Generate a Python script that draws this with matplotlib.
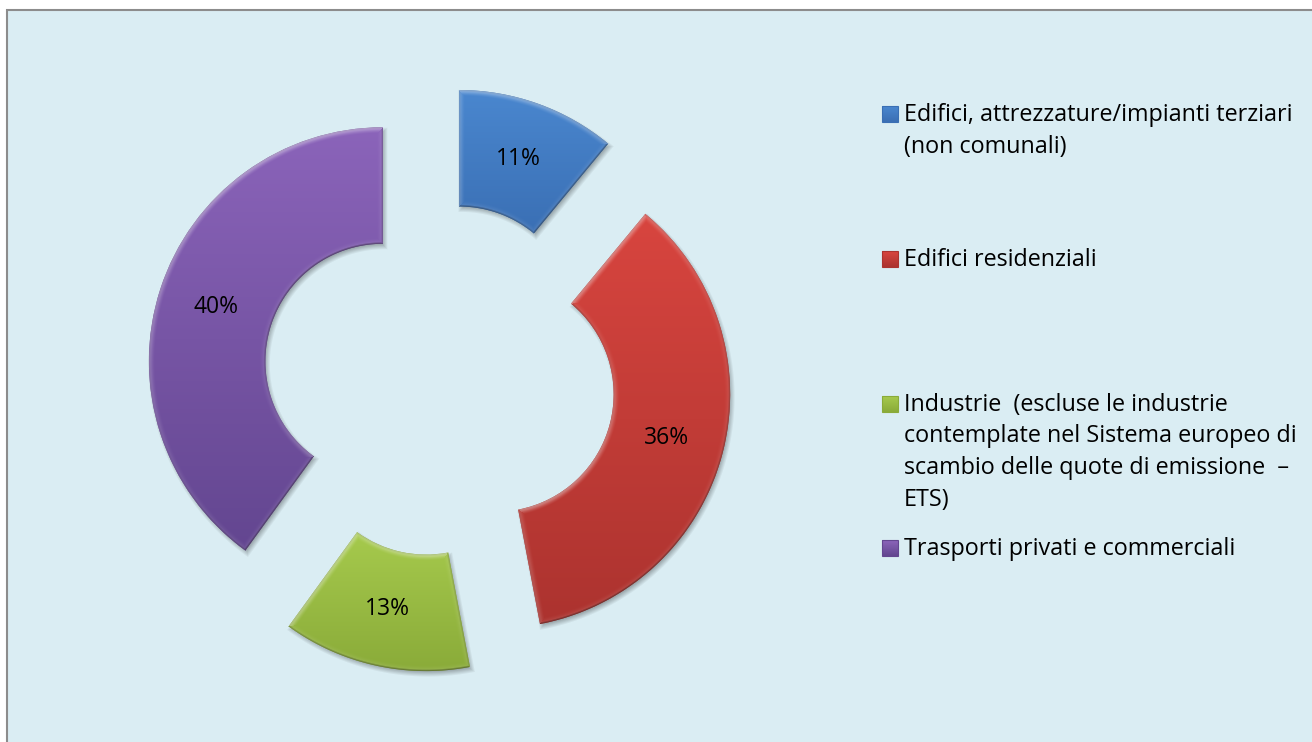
import matplotlib.pyplot as plt
import numpy as np
from matplotlib.colors import to_rgb
from matplotlib.patches import Rectangle

# data
categories = [
    'Edifici, attrezzature/impianti terziari\n(non comunali)',
    'Edifici residenziali',
    'Industrie  (escluse le industrie\ncontemplate nel Sistema europeo di\n'
    'scambio delle quote di emissione  \u2013\nETS)',
    'Trasporti privati e commerciali',
]
shares = [11, 36, 13, 40]
top_colors = ['#4A87CF', '#D8453F', '#A6CA4D', '#8B64BA']
bottom_colors = ['#3A6FB4', '#AC332F', '#8AAB39', '#634690']

# layout (pixel units, y measured upward)
W, H = 1312, 742
CENTER = (439, H - 379.5)
R_OUT = 234
RING = 116.5
EXPLODE = 59
BEVEL = 6.0
LIGHT = np.array([-0.4, 0.92])
LIGHT = LIGHT / np.linalg.norm(LIGHT)
LEG_X = 882
LEG_BASELINES = [120.8, 265.7, 410.7, 555.0]
LEG_STEP = 31.8
FONT = ['Open Sans', 'DejaVu Sans']

plt.rcParams['font.family'] = FONT


def sector_field(w, X, Y):
    """Signed distance to the edge of an annular wedge and the outward normal."""
    cx, cy = w.center
    dx, dy = X - cx, Y - cy
    rho = np.hypot(dx, dy) + 1e-9
    t1, t2 = np.radians(w.theta1), np.radians(w.theta2)
    r_in = w.r - w.width
    d = np.stack([w.r - rho, rho - r_in,
                  -np.sin(t1) * dx + np.cos(t1) * dy,
                  np.sin(t2) * dx - np.cos(t2) * dy])
    ux, uy = dx / rho, dy / rho
    one = np.ones_like(ux)
    nx = np.stack([ux, -ux, one * np.sin(t1), -one * np.sin(t2)])
    ny = np.stack([uy, -uy, -one * np.cos(t1), one * np.cos(t2)])
    k = np.argmin(d, axis=0)[None]
    sd = np.take_along_axis(d, k, 0)[0]
    return sd, np.take_along_axis(nx, k, 0)[0], np.take_along_axis(ny, k, 0)[0]


def shade_slice(ax, w, top, bottom):
    """Gradient fill, bevelled rim and soft drop shadow for one wedge."""
    ext = w.get_patch_transform().transform_path(w.get_path()).get_extents()
    x0, x1 = int(ext.x0) - 6, int(ext.x1) + 9
    y0, y1 = int(ext.y0) - 9, int(ext.y1) + 6
    X, Y = np.meshgrid(np.arange(x0, x1) + 0.5, np.arange(y0, y1) + 0.5)
    box = (x0, x1, y0, y1)

    sd_s, _, _ = sector_field(w, X - 2, Y + 3)
    shadow = np.zeros(X.shape + (4,))
    shadow[..., 3] = 0.3 * np.clip((sd_s + 3) / 6, 0, 1)
    ax.imshow(shadow, extent=box, origin='lower', zorder=1,
              interpolation='nearest')

    sd, nx, ny = sector_field(w, X, Y)
    t = np.clip((Y - ext.y0) / ext.height, 0, 1)[..., None]
    base = np.array(to_rgb(bottom)) * (1 - t) + np.array(to_rgb(top)) * t
    facing = nx * LIGHT[0] + ny * LIGHT[1]
    rim = np.clip(1 - sd / BEVEL, 0, 1) ** 1.5
    hl = rim * (0.14 + 0.38 * np.clip(facing, 0, 1))
    edge = np.clip(1 - sd / 2.0, 0, 1) * (0.12 + 0.35 * np.clip(-facing, 0, 1))
    rgb = base + (1 - base) * hl[..., None]
    rgb = rgb * (1 - edge[..., None])
    img = np.dstack([rgb, np.clip(sd + 0.5, 0, 1)])
    ax.imshow(img, extent=box, origin='lower', zorder=3,
              interpolation='nearest')


fig = plt.figure(figsize=(W / 100, H / 100), dpi=100, facecolor='white')
ax = fig.add_axes([0, 0, 1, 1])

ax.add_patch(Rectangle((7, -10), W + 20, H, facecolor='#DAEDF3',
                       edgecolor='#8C8C8C', linewidth=1.5, zorder=0))

mid = [tuple((np.array(to_rgb(a)) + np.array(to_rgb(b))) / 2)
       for a, b in zip(top_colors, bottom_colors)]
wedges, _, pcts = ax.pie(
    shares, explode=[EXPLODE] * len(shares), colors=mid, center=CENTER,
    radius=R_OUT, startangle=90, counterclock=False, autopct='%.0f%%',
    pctdistance=(R_OUT - RING / 2) / R_OUT, labeldistance=None,
    wedgeprops=dict(width=RING, linewidth=0, zorder=2),
    textprops=dict(fontsize=16.5, color='black', zorder=5, family=FONT))

for w, top, bottom in zip(wedges, top_colors, bottom_colors):
    shade_slice(ax, w, top, bottom)

# legend drawn by hand so the wrapped entries keep their spacing
for label, base_y, top, bottom in zip(categories, LEG_BASELINES,
                                      top_colors, bottom_colors):
    yc = H - (base_y - 7)
    grad = np.linspace(0, 1, 16)[:, None, None]
    sq = (np.array(to_rgb(bottom)) * (1 - grad)
          + np.array(to_rgb(top)) * grad) * np.ones((1, 16, 1))
    ax.imshow(sq, extent=(LEG_X, LEG_X + 16, yc - 8, yc + 8),
              origin='lower', zorder=4, interpolation='bilinear')
    ax.add_patch(Rectangle((LEG_X, yc - 8), 16, 16, facecolor='none',
                           edgecolor=bottom, linewidth=0.8, zorder=5))
    for i, line in enumerate(label.split('\n')):
        ax.text(LEG_X + 22, H - (base_y + i * LEG_STEP), line,
                fontsize=16.8, color='black', va='baseline', ha='left',
                zorder=5)

ax.set_xlim(0, W)
ax.set_ylim(0, H)
ax.set_aspect('auto')
ax.axis('off')

fig.savefig('out.png', dpi=100, facecolor='white')
